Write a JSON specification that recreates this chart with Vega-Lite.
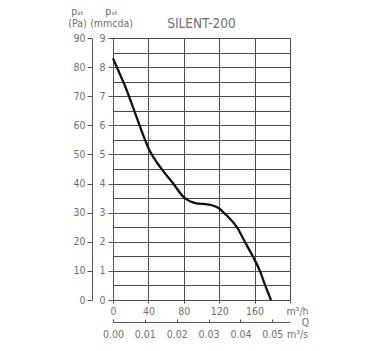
{
  "$schema": "https://vega.github.io/schema/vega-lite/v6.json",
  "width": 177,
  "height": 262,
  "autosize": "none",
  "padding": {"left": 113, "top": 38, "right": 91, "bottom": 51},
  "background": "white",
  "title": {"text": "SILENT-200", "frame": "group", "anchor": "middle", "offset": 12, "dy": 47, "baseline": "alphabetic", "font": "Liberation Sans Narrow, DejaVu Sans Condensed, sans-serif", "fontSize": 13.5, "fontWeight": "normal", "color": "#707070"},
  "data": {"values": [
    {"Q": 0, "P": 83.0},
    {"Q": 5, "P": 79.5},
    {"Q": 13.6, "P": 73.5},
    {"Q": 25, "P": 64.2},
    {"Q": 34, "P": 56.7},
    {"Q": 41, "P": 51.5},
    {"Q": 53, "P": 45.8},
    {"Q": 68, "P": 40.0},
    {"Q": 80, "P": 35.3},
    {"Q": 93, "P": 33.3},
    {"Q": 108, "P": 32.8},
    {"Q": 121, "P": 31.2},
    {"Q": 125, "P": 30.0},
    {"Q": 130, "P": 28.6},
    {"Q": 140, "P": 25.0},
    {"Q": 149, "P": 20.0},
    {"Q": 158, "P": 15.0},
    {"Q": 166, "P": 10.0},
    {"Q": 172, "P": 5.0},
    {"Q": 178.5, "P": 0}
  ]},
  "config": {
    "view": {"stroke": null},
    "axis": {
      "labelFont": "Liberation Sans Narrow, DejaVu Sans Condensed, sans-serif",
      "titleFont": "Liberation Sans Narrow, DejaVu Sans Condensed, sans-serif",
      "labelColor": "#707070",
      "titleColor": "#707070",
      "labelFontSize": 10.5,
      "titleFontSize": 10.5,
      "titleFontWeight": "normal",
      "domainColor": "#555555",
      "tickColor": "#555555",
      "gridColor": "#4a4a4a",
      "gridOpacity": 1,
      "labelFlush": false,
      "labelOverlap": false,
      "labelBound": false
    }
  },
  "layer": [
    {
      "mark": {"type": "line", "color": "#111111", "strokeWidth": 2.3, "interpolate": "monotone"},
      "encoding": {
        "x": {"field": "Q", "type": "quantitative", "scale": {"domain": [0, 200], "nice": false},
          "axis": {"orient": "bottom", "values": [0, 40, 80, 120, 160, 200], "grid": true, "domain": false, "tickSize": 3, "labelPadding": 3,
            "labelExpr": "datum.value == 200 ? 'm³/h' : datum.label",
            "labelOffset": {"condition": {"test": "datum.value == 200", "value": 7}, "value": 0},
            "title": null}},
        "y": {"field": "P", "type": "quantitative", "scale": {"domain": [0, 90], "nice": false},
          "axis": {"orient": "left", "offset": 21, "values": [0, 10, 20, 30, 40, 50, 60, 70, 80, 90], "grid": false, "tickSize": 5, "labelPadding": 2,
            "title": ["pₛₜ", "(Pa)"], "titleAngle": 0, "titleAlign": "center", "titleBaseline": "middle", "titleX": -15, "titleY": -27, "titleLineHeight": 12}}
      }
    },
    {
      "mark": {"type": "point", "opacity": 0},
      "encoding": {
        "x": {"field": "Q", "type": "quantitative", "scale": {"domain": [0, 200], "nice": false},
          "axis": {"orient": "bottom", "offset": 22, "values": [0, 36, 72, 108, 144, 180, 200], "grid": false, "tickSize": -3, "labelPadding": 10,
            "labelExpr": "datum.value == 200 ? 'm³/s' : format(datum.value / 3600, '.2f')",
            "labelOffset": {"condition": {"test": "datum.value == 200", "value": 7}, "value": 0},
            "tickOpacity": {"condition": {"test": "datum.value == 200", "value": 0}, "value": 1},
            "title": "Q", "titleX": 192, "titleY": 0, "titleAlign": "center", "titleBaseline": "middle"}},
        "y": {"field": "P", "type": "quantitative", "scale": {"domain": [0, 90], "nice": false},
          "axis": {"orient": "left", "values": [0, 5, 10, 15, 20, 25, 30, 35, 40, 45, 50, 55, 60, 65, 70, 75, 80, 85, 90], "grid": true, "tickSize": 5, "labelPadding": 3,
            "labelExpr": "datum.value % 10 == 0 ? format(datum.value / 10, 'd') : ''",
            "tickOpacity": {"condition": {"test": "datum.value % 10 == 0", "value": 1}, "value": 0},
            "title": ["pₛₜ", "(mmcda)"], "titleAngle": 0, "titleAlign": "center", "titleBaseline": "middle", "titleX": -2, "titleY": -27, "titleLineHeight": 12}}
      }
    }
  ],
  "resolve": {"scale": {"x": "independent", "y": "independent"}, "axis": {"x": "independent", "y": "independent"}}
}
